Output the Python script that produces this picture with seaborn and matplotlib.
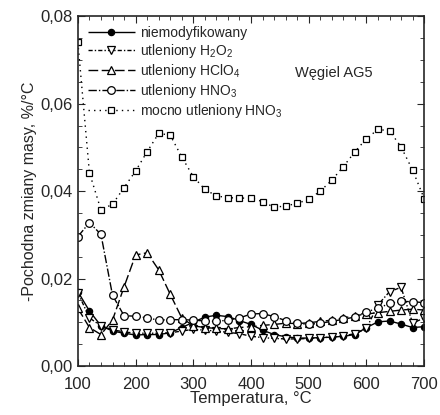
import numpy as np
import pandas as pd
import matplotlib
matplotlib.use("Agg")
import matplotlib.pyplot as plt
import seaborn as sns
from matplotlib.ticker import MultipleLocator, FuncFormatter

temperatura = list(range(100, 701, 20))

niemodyfikowany = [0.0170, 0.0126, 0.0092, 0.0080, 0.0075, 0.0071, 0.0072, 0.0072, 0.0076, 0.0088,
                   0.0100, 0.0112, 0.0116, 0.0113, 0.0104, 0.0095, 0.0082, 0.0072, 0.0067, 0.0064,
                   0.0064, 0.0065, 0.0066, 0.0068, 0.0072, 0.0088, 0.0101, 0.0103, 0.0096, 0.0088,
                   0.0090]
utl_h2o2 = [0.0168, 0.0110, 0.0092, 0.0083, 0.0078, 0.0075, 0.0075, 0.0075, 0.0076, 0.0080,
            0.0084, 0.0082, 0.0080, 0.0077, 0.0074, 0.0068, 0.0065, 0.0063, 0.0062, 0.0062,
            0.0063, 0.0065, 0.0066, 0.0069, 0.0074, 0.0086, 0.0140, 0.0170, 0.0180, 0.0098,
            0.0110]
utl_hclo4 = [0.0132, 0.0088, 0.0072, 0.0105, 0.0181, 0.0254, 0.0259, 0.0220, 0.0164, 0.0110,
             0.0092, 0.0088, 0.0086, 0.0085, 0.0088, 0.0090, 0.0093, 0.0095, 0.0098, 0.0097,
             0.0099, 0.0102, 0.0105, 0.0110, 0.0115, 0.0119, 0.0122, 0.0125, 0.0128, 0.0130,
             0.0128]
utl_hno3 = [0.0296, 0.0328, 0.0301, 0.0162, 0.0115, 0.0114, 0.0110, 0.0105, 0.0106, 0.0106,
            0.0105, 0.0103, 0.0102, 0.0105, 0.0110, 0.0119, 0.0120, 0.0113, 0.0104, 0.0098,
            0.0095, 0.0098, 0.0102, 0.0107, 0.0112, 0.0124, 0.0132, 0.0143, 0.0148, 0.0147,
            0.0145]
mocno_hno3 = [0.0740, 0.0442, 0.0357, 0.0370, 0.0408, 0.0446, 0.0490, 0.0532, 0.0528, 0.0478,
              0.0433, 0.0404, 0.0389, 0.0385, 0.0384, 0.0384, 0.0376, 0.0363, 0.0366, 0.0372,
              0.0381, 0.0400, 0.0425, 0.0456, 0.0490, 0.0520, 0.0541, 0.0538, 0.0501, 0.0448,
              0.0383]

labels = ["niemodyfikowany",
          r"utleniony H$_\mathregular{2}$O$_\mathregular{2}$",
          r"utleniony HClO$_\mathregular{4}$",
          r"utleniony HNO$_\mathregular{3}$",
          r"mocno utleniony HNO$_\mathregular{3}$"]

sns.set_style("ticks")
plt.rcParams["font.family"] = ["Liberation Sans", "DejaVu Sans"]
plt.rcParams["mathtext.default"] = "regular"

fig = plt.figure(figsize=(4.4, 4.15), dpi=100)
ax = fig.add_axes([0.177, 0.118, 0.787, 0.843])

series = [
    (niemodyfikowany, "o", "black", (0, ()), 4.5),
    (utl_h2o2, "v", "white", (0, (3, 1.5, 1, 1.5)), 5.5),
    (utl_hclo4, "^", "white", (0, (7, 2.5)), 5.5),
    (utl_hno3, "o", "white", (0, (6, 1.5, 1, 1.5)), 5.5),
    (mocno_hno3, "s", "white", (0, (1, 3)), 5),
]

for (vals, mk, fc, ls, ms), lab in zip(series, labels):
    df = pd.DataFrame({"T": temperatura, "v": vals})
    sns.lineplot(data=df, x="T", y="v", ax=ax, color="black", lw=1.0,
                 marker=mk, markersize=ms, markerfacecolor=fc,
                 markeredgecolor="black", markeredgewidth=0.9,
                 linestyle=ls, label=lab)

ax.set_xlim(100, 700)
ax.set_ylim(0, 0.08)
ax.xaxis.set_major_locator(MultipleLocator(100))
ax.xaxis.set_minor_locator(MultipleLocator(20))
ax.yaxis.set_major_locator(MultipleLocator(0.02))
ax.yaxis.set_minor_locator(MultipleLocator(0.005))
ax.yaxis.set_major_formatter(FuncFormatter(lambda v, p: f"{v:.2f}".replace(".", ",")))
ax.tick_params(which="both", direction="in", top=True, right=True, labelsize=12)
ax.tick_params(which="major", length=5)
ax.tick_params(axis="x", which="major", pad=8)
ax.tick_params(axis="y", which="major", pad=4)
ax.tick_params(which="minor", length=3)
for s in ax.spines.values():
    s.set_linewidth(1.2)

ax.set_xlabel("Temperatura, °C", fontsize=12, labelpad=-1)
ax.set_ylabel("-Pochodna zmiany masy, %/°C", fontsize=11.5, labelpad=2)

ax.text(476, 0.066, "Węgiel AG5", fontsize=10.5, va="baseline")

leg = ax.legend(loc="upper left", frameon=False, fontsize=10, handlelength=3.4,
                labelspacing=0.15, borderaxespad=0.3, handletextpad=0.4)

fig.savefig("out.png", dpi=100)
